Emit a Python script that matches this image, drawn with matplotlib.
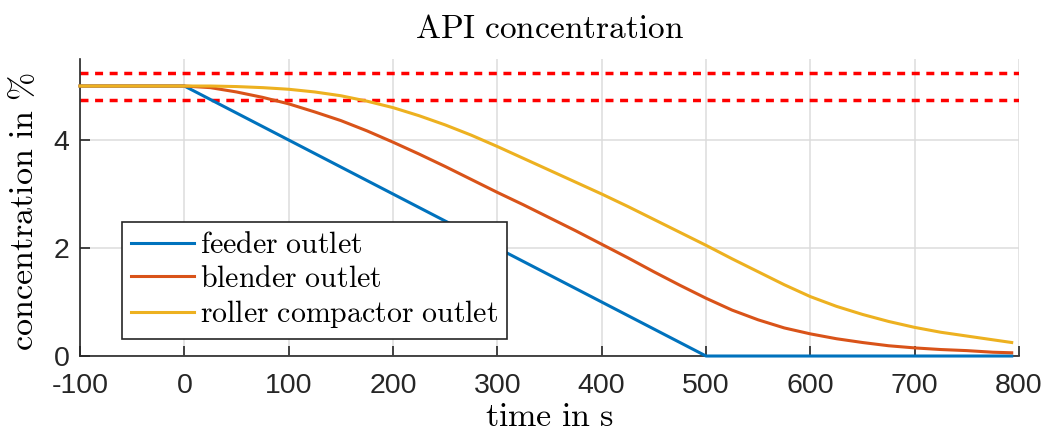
import matplotlib
matplotlib.use("Agg")
import matplotlib.pyplot as plt

plt.rcParams['mathtext.fontset'] = 'cm'
plt.rcParams['axes.unicode_minus'] = False
plt.rcParams['font.family'] = ['Liberation Sans', 'DejaVu Sans']

# feeder outlet: step down ramp
t_feeder = [-100, 0, 500, 793]
c_feeder = [5.0, 5.0, 0.0, 0.0]

# blender outlet
t_blender = [-100, 0, 25, 50, 75, 100, 125, 150, 175, 200, 225, 250, 275, 300,
             325, 350, 375, 400, 425, 450, 475, 500, 525, 550, 575, 600, 625,
             650, 675, 700, 725, 750, 775, 793]
c_blender = [5.0, 5.0, 4.97, 4.89, 4.79, 4.67, 4.52, 4.36, 4.17, 3.96, 3.74, 3.51,
             3.27, 3.03, 2.8, 2.56, 2.32, 2.07, 1.82, 1.56, 1.31, 1.07, 0.85,
             0.67, 0.52, 0.41, 0.32, 0.25, 0.19, 0.15, 0.12, 0.1, 0.07, 0.06]

# roller compactor outlet
t_roller = [-100, 0, 25, 50, 75, 100, 125, 150, 175, 200, 225, 250, 275, 300,
            325, 350, 375, 400, 425, 450, 475, 500, 525, 550, 575, 600, 625,
            650, 675, 700, 725, 750, 775, 793]
c_roller = [5.0, 5.0, 5.0, 4.99, 4.97, 4.94, 4.89, 4.82, 4.72, 4.6, 4.45, 4.28,
            4.09, 3.88, 3.66, 3.44, 3.22, 3.0, 2.77, 2.53, 2.29, 2.05, 1.8, 1.56,
            1.32, 1.1, 0.92, 0.77, 0.64, 0.53, 0.44, 0.37, 0.3, 0.25]

limits = [5.25, 4.75]

x_ticks = list(range(-100, 801, 100))
y_ticks = [0, 2, 4]

blue = '#0072BD'
orange = '#D95319'
yellow = '#EDB120'

fig = plt.figure(figsize=(10.46, 4.34), dpi=100)
ax = fig.add_axes([0.0765, 0.1797, 0.8977, 0.6843])

for lim in limits:
    ax.axhline(lim, color='red', linestyle=(0, (2.3, 1.9)), linewidth=2.5)

ax.plot(t_feeder, c_feeder, color=blue, linewidth=2.2, label='feeder outlet', clip_on=False, zorder=3)
ax.plot(t_blender, c_blender, color=orange, linewidth=2.2, label='blender outlet', clip_on=False, zorder=3)
ax.plot(t_roller, c_roller, color=yellow, linewidth=2.2, label='roller compactor outlet', clip_on=False, zorder=3)

ax.set_xlim(-100, 800)
ax.set_ylim(0, 5.5)
ax.set_xticks(x_ticks)
ax.set_yticks(y_ticks)
ax.grid(True, color='#dcdcdc', linewidth=1.1)
ax.set_axisbelow(True)

for side in ['top', 'right']:
    ax.spines[side].set_visible(False)
for side in ['left', 'bottom']:
    ax.spines[side].set_color('#262626')
    ax.spines[side].set_linewidth(1.2)
ax.tick_params(direction='in', length=7, width=1.2, colors='#262626', labelsize=20.5)
ax.tick_params(axis='x', pad=12.5)
ax.tick_params(axis='y', pad=7.5)

ax.set_title(r'$\mathrm{API\ concentration}$', fontsize=24, pad=15)
ax.set_xlabel(r'$\mathrm{time\ in\ s}$', fontsize=24.5, labelpad=2)
ax.set_ylabel(r'$\mathrm{concentration\ in\ \%}$', fontsize=24.5)
ax.yaxis.set_label_coords(-0.043, 0.485)

leg = ax.legend(loc='lower left', bbox_to_anchor=(0.0447, 0.057), borderaxespad=0,
                fancybox=False, framealpha=1, edgecolor='#262626',
                prop={'size': 21.5}, handlelength=2.1,
                handletextpad=0.2, labelspacing=0.18, borderpad=0.3)
leg.get_frame().set_linewidth(1.2)
for txt in leg.get_texts():
    txt.set_text(r'$\mathrm{' + txt.get_text().replace(' ', r'\ ') + '}$')

fig.savefig('out.png', dpi=100)
